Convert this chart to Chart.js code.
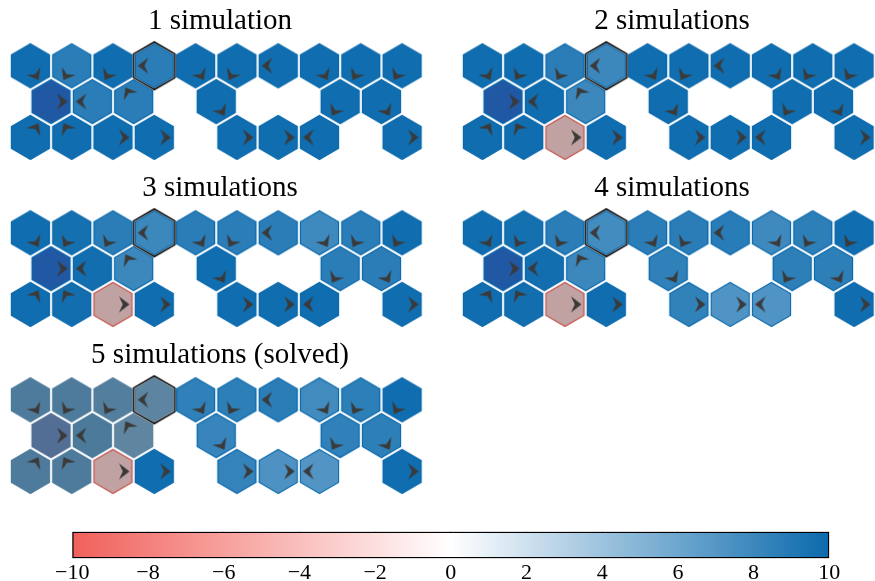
<!DOCTYPE html>
<html>
<head>
<meta charset="utf-8">
<script src="https://cdn.jsdelivr.net/npm/chart.js@4.4.1/dist/chart.umd.min.js"></script>
<style>
  html, body { margin: 0; padding: 0; background: #ffffff; overflow: hidden; width: 875px; height: 581px; }
  canvas { position: absolute; }
</style>
</head>
<body>
<script>
// ---- board layout: row / column of every cell, and the policy arrow in it ----
const CELL_ROW = [0,0,0,0,0,0,0,0,0,0, 1,1,1,1,1,1, 2,2,2,2,2,2,2,2];
const CELL_COL = [0,1,2,3,4,5,6,7,8,9, 0,1,2,4,7,8, 0,1,2,3,5,6,7,9];
const CELL_DIR = ['SE','SW','SW','W','SE','SW','W','SE','SW','SW',
                  'E','W','NW','SE','SW','SE',
                  'NE','NW','E','E','E','E','W','E'];
const START_CELL = 3;
const GOAL_CELL = 10;

const PANEL_TITLES = ['1 simulation', '2 simulations', '3 simulations', '4 simulations', '5 simulations (solved)'];

// ---- value estimate of every cell after each number of simulations ----
const VALUES_1 = [9.8, 8.7, 9.8, 8.7, 9.8, 9.8, 9.8, 9.8, 9.8, 9.8,
                  9.8, 8.7, 8.7, 9.8, 9.8, 9.8,
                  9.8, 9.8, 9.8, 9.8, 9.8, 9.8, 9.8, 9.8];
const VALUES_2 = [9.8, 9.8, 8.7, 8.0, 9.8, 9.8, 9.8, 9.8, 9.8, 9.8,
                  9.8, 9.8, 8.0, 9.8, 9.8, 9.8,
                  9.8, 9.8, -4.0, 9.8, 9.8, 9.8, 9.8, 9.8];
const VALUES_3 = [9.8, 9.6, 8.7, 8.0, 8.7, 8.7, 8.7, 7.9, 8.7, 9.8,
                  9.8, 9.7, 8.0, 9.8, 8.7, 8.7,
                  9.8, 9.7, -4.0, 9.8, 9.8, 9.8, 9.8, 9.8];
const VALUES_4 = [9.8, 9.6, 8.7, 7.7, 8.7, 8.7, 8.8, 7.9, 8.6, 9.8,
                  9.8, 9.7, 8.0, 8.5, 8.6, 8.6,
                  9.8, 9.7, -4.0, 9.8, 8.4, 7.2, 7.2, 9.8];
const VALUES_5 = [9.5, 9.5, 9.0, 8.2, 8.5, 8.6, 8.7, 7.8, 8.6, 9.8,
                  9.8, 9.6, 8.1, 8.2, 8.5, 8.6,
                  9.5, 9.5, -4.0, 9.8, 8.3, 7.3, 7.1, 9.8];

// ---- cells marked as solved (1) after each number of simulations ----
const SOLVED_1 = [0,0,0,0,0,0,0,0,0,0, 0,0,0,0,0,0, 0,0,0,0,0,0,0,0];
const SOLVED_2 = [0,0,0,0,0,0,0,0,0,0, 0,0,0,0,0,0, 0,0,1,0,0,0,0,0];
const SOLVED_3 = [0,0,0,0,0,0,0,0,0,0, 0,0,0,0,0,0, 0,0,1,0,0,0,0,0];
const SOLVED_4 = [0,0,0,0,0,0,0,0,0,0, 0,0,0,0,0,0, 0,0,1,0,0,0,0,0];
const SOLVED_5 = [1,1,1,1,0,0,0,0,0,0, 1,1,1,0,0,0, 1,1,1,0,0,0,0,0];

const PANEL_VALUES = [VALUES_1, VALUES_2, VALUES_3, VALUES_4, VALUES_5];
const PANEL_SOLVED = [SOLVED_1, SOLVED_2, SOLVED_3, SOLVED_4, SOLVED_5];

// colour bar range and tick step
const CBAR_MIN = -10, CBAR_MAX = 10, CBAR_STEP = 2;

// ---- geometry / styling ----
const PITCH_X = 41.3;      // px between neighbouring cell centres in a row
const PITCH_Y = 35.8;      // px between rows
const HEX_R = 22;          // cell radius (px)
const START_R = 23.8;      // radius of the start-cell outline
const ARROW_SHIFT = 11;    // arrow distance from the cell centre (px)
const PANEL_W = 440, PANEL_H = 167;
const PANEL_POS = [[0, 0], [452, 0], [0, 167], [452, 167], [0, 334]];
const ORIGIN_X = 30.4, ORIGIN_Y = 65.8;   // centre of cell (row 0, col 0) in a panel
const TITLE_SIZE = 29, TITLE_PAD_TOP = 7;
const AREA_TOP = TITLE_SIZE + TITLE_PAD_TOP;
const FONT = "'Liberation Serif', 'Times New Roman', serif";
const DIR_ANGLE = { E: 0, SE: 60, SW: 120, W: 180, NW: 240, NE: 300 };

const RED = [241, 96, 90], WHITE = [255, 255, 255], BLUE = [11, 106, 173];
const SOLVED_TINT = [132, 132, 132], GOAL_TINT = [71, 39, 138];

Chart.defaults.font.family = FONT;

function mix(a, b, t) { return a.map((v, i) => v + (b[i] - v) * t); }
function rgb(c) { return 'rgb(' + c.map(v => Math.round(v)).join(',') + ')'; }
function cmap(v) {
  const t = Math.max(-1, Math.min(1, v / CBAR_MAX));
  return mix(WHITE, t < 0 ? RED : BLUE, Math.abs(t));
}

function hexCanvas(r, fill, stroke, lw) {
  const w = Math.ceil(Math.sqrt(3) * r + lw + 3), h = Math.ceil(2 * r + lw + 3);
  const c = document.createElement('canvas');
  c.width = w; c.height = h;
  const g = c.getContext('2d');
  g.beginPath();
  for (let k = 0; k < 6; k++) {
    const a = (-90 + 60 * k) * Math.PI / 180;
    const px = w / 2 + r * Math.cos(a), py = h / 2 + r * Math.sin(a);
    if (k === 0) g.moveTo(px, py); else g.lineTo(px, py);
  }
  g.closePath();
  if (fill) { g.fillStyle = fill; g.fill(); }
  if (stroke) { g.strokeStyle = stroke; g.lineWidth = lw; g.lineJoin = 'miter'; g.stroke(); }
  return c;
}

// arrow head pointing to the right; rotated per point by Chart.js
function dartCanvas() {
  const c = document.createElement('canvas');
  c.width = 24; c.height = 24;
  const g = c.getContext('2d');
  g.translate(12, 12);
  g.beginPath();
  g.moveTo(5.5, 0);
  g.lineTo(-5, -8);
  g.lineTo(-1.2, 0);
  g.lineTo(-5, 8);
  g.closePath();
  g.fillStyle = '#3a3a3a';
  g.fill();
  return c;
}
const DART = dartCanvas();
const START_OUTLINE = hexCanvas(START_R, null, '#000000', 1.6);

function cellStyle(v, solved, isGoal) {
  let base = cmap(v);
  if (isGoal) base = mix(base, GOAL_TINT, 0.3);
  const fill = solved ? mix(base, SOLVED_TINT, 0.5) : base;
  let edge;
  if (v < 0) edge = RED.map(c => c * 0.83);
  else if (solved) edge = fill;
  else edge = cmap(Math.min(CBAR_MAX, v + 2.5));
  return hexCanvas(HEX_R, rgb(fill), rgb(edge), 1.2);
}

function cellX(i) { return CELL_COL[i] + 0.5 * (CELL_ROW[i] % 2); }
function cellY(i) { return CELL_ROW[i]; }

function makePanel(p) {
  const cv = document.createElement('canvas');
  cv.width = PANEL_W; cv.height = PANEL_H;
  cv.style.left = PANEL_POS[p][0] + 'px';
  cv.style.top = PANEL_POS[p][1] + 'px';
  cv.style.width = PANEL_W + 'px'; cv.style.height = PANEL_H + 'px';
  document.body.appendChild(cv);

  const values = PANEL_VALUES[p], solved = PANEL_SOLVED[p];
  const cells = CELL_ROW.map((r, i) => ({ x: cellX(i), y: cellY(i) }));
  const hexStyles = values.map((v, i) => cellStyle(v, solved[i] === 1, i === GOAL_CELL));
  const arrows = CELL_DIR.map((d, i) => {
    const a = DIR_ANGLE[d] * Math.PI / 180;
    return { x: cellX(i) + ARROW_SHIFT * Math.cos(a) / PITCH_X,
             y: cellY(i) + ARROW_SHIFT * Math.sin(a) / PITCH_Y };
  });
  const rotations = CELL_DIR.map(d => DIR_ANGLE[d]);

  new Chart(cv, {
    type: 'scatter',
    data: {
      datasets: [
        { label: 'policy', data: arrows, pointStyle: DART, rotation: rotations,
          pointRadius: 6, order: 0, clip: false },
        { label: 'start', data: [cells[START_CELL]], pointStyle: START_OUTLINE,
          pointRadius: 6, order: 1, clip: false },
        { label: 'value', data: cells, pointStyle: hexStyles,
          pointRadius: 6, order: 2, clip: false }
      ]
    },
    options: {
      responsive: false,
      animation: false,
      devicePixelRatio: 1,
      events: [],
      layout: { padding: 0, autoPadding: false },
      plugins: {
        legend: { display: false },
        tooltip: { enabled: false },
        title: {
          display: true,
          text: PANEL_TITLES[p],
          color: '#000000',
          font: { family: FONT, size: TITLE_SIZE, weight: 'normal', lineHeight: 1 },
          padding: { top: TITLE_PAD_TOP, bottom: 0 }
        }
      },
      scales: {
        x: { type: 'linear', display: false, bounds: 'data',
             min: -ORIGIN_X / PITCH_X, max: (PANEL_W - ORIGIN_X) / PITCH_X },
        y: { type: 'linear', display: false, bounds: 'data', reverse: true,
             min: -(ORIGIN_Y - AREA_TOP) / PITCH_Y, max: (PANEL_H - ORIGIN_Y) / PITCH_Y }
      }
    }
  });
}

for (let p = 0; p < PANEL_TITLES.length; p++) makePanel(p);

// ---- colour bar ----
(function () {
  const cv = document.createElement('canvas');
  cv.width = 875; cv.height = 65;
  cv.style.left = '0px'; cv.style.top = '520px';
  cv.style.width = '875px'; cv.style.height = '65px';
  document.body.appendChild(cv);

  new Chart(cv, {
    type: 'bar',
    data: {
      labels: [''],
      datasets: [{
        data: [[CBAR_MIN, CBAR_MAX]],
        borderColor: '#000000',
        borderWidth: 1.6,
        borderSkipped: false,
        barPercentage: 1,
        categoryPercentage: 1,
        backgroundColor: (ctx) => {
          const chart = ctx.chart;
          const xs = chart.scales.x;
          if (!chart.chartArea || !xs) return rgb(WHITE);
          const x0 = xs.getPixelForValue(CBAR_MIN), x1 = xs.getPixelForValue(CBAR_MAX);
          const grad = chart.ctx.createLinearGradient(x0, 0, x1, 0);
          for (let k = 0; k <= 20; k++) {
            const v = CBAR_MIN + (CBAR_MAX - CBAR_MIN) * k / 20;
            grad.addColorStop(k / 20, rgb(cmap(v)));
          }
          return grad;
        }
      }]
    },
    options: {
      indexAxis: 'y',
      responsive: false,
      animation: false,
      devicePixelRatio: 1,
      events: [],
      layout: { padding: { left: 72.3, right: 45.7, top: 11.7, bottom: 0 }, autoPadding: false },
      plugins: { legend: { display: false }, tooltip: { enabled: false }, title: { display: false } },
      scales: {
        y: { type: 'category', display: false },
        x: {
          type: 'linear', min: CBAR_MIN, max: CBAR_MAX, bounds: 'data', z: 1,
          border: { display: false },
          grid: {
            drawTicks: false,
            lineWidth: 1,
            color: (c) => (c.tick && (c.tick.value === CBAR_MIN || c.tick.value === CBAR_MAX))
              ? 'rgba(0,0,0,0)' : '#8a8a8a'
          },
          ticks: {
            stepSize: CBAR_STEP,
            padding: 2,
            color: '#000000',
            font: { family: FONT, size: 22, lineHeight: 1.2 },
            callback: (v) => (v < 0 ? '\u2212' + Math.abs(v) : String(v))
          }
        }
      }
    }
  });
})();
</script>
</body>
</html>
